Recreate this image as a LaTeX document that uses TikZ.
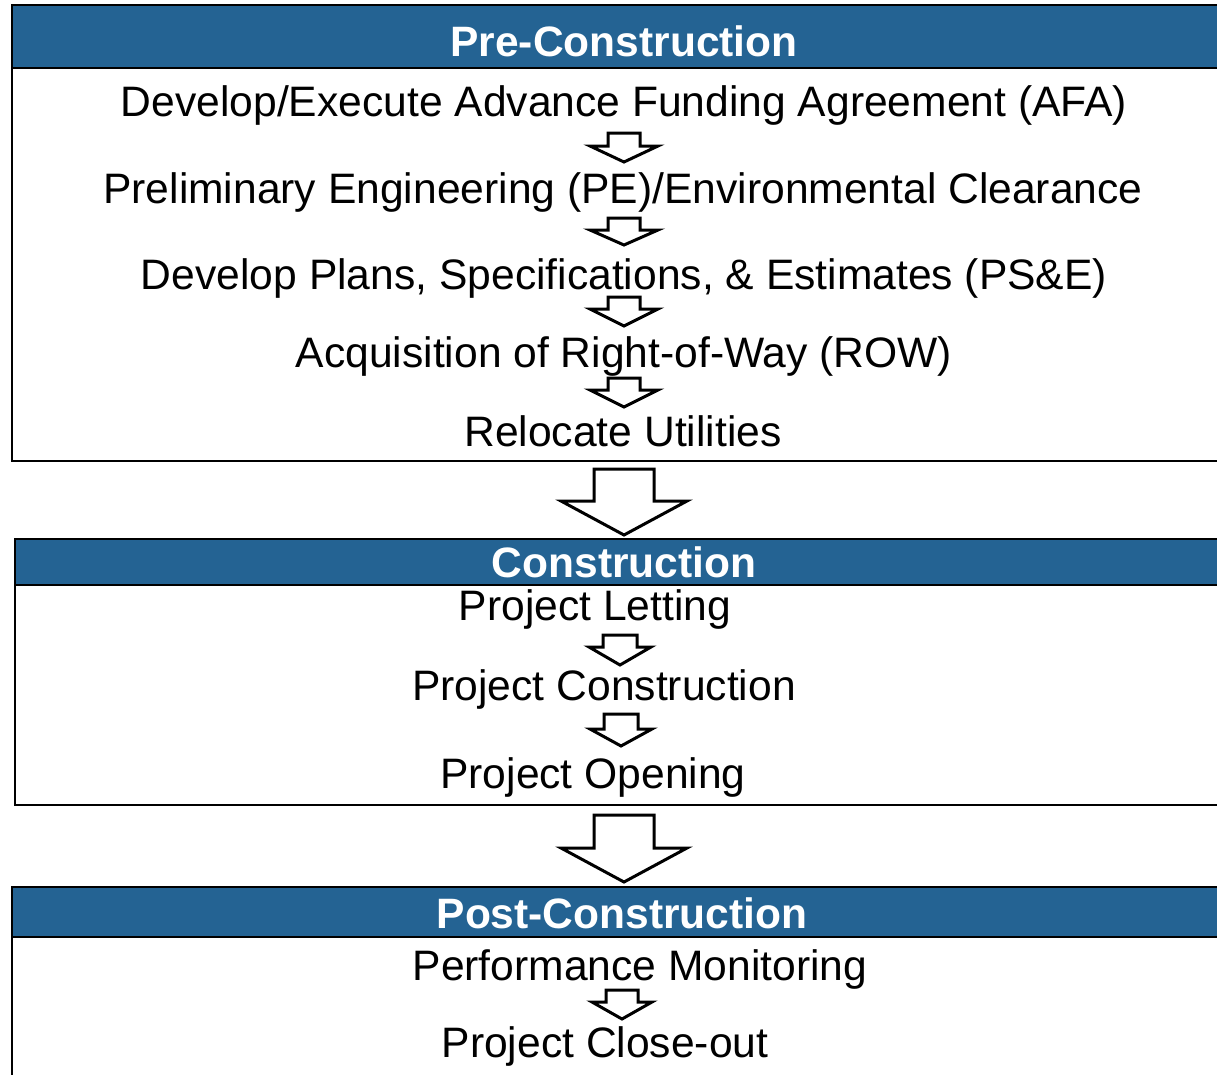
\documentclass[tikz,border=0pt]{standalone}
\usepackage{fontspec}
\setmainfont{Liberation Sans}
\definecolor{hdrblue}{RGB}{36,99,147}
\tikzset{
  boxline/.style={draw=black, line width=2.5pt},
  hdrbox/.style={draw=black, line width=2.5pt, fill=hdrblue},
  hdrtxt/.style={anchor=base, inner sep=0pt, text=white, font=\fontsize{42.5}{50}\selectfont\bfseries},
  bodytxt/.style={anchor=base, inner sep=0pt, text=black, font=\fontsize{42.6}{50}\selectfont},
  blkarrow/.style={draw=black, line width=3pt, fill=white, line join=miter},
}
% \blk{cx}{top}{half shaft}{half head}{head base}{tip}
\newcommand\blk[6]{%
  \draw[blkarrow] (#1-#3,#2) -- (#1+#3,#2) -- (#1+#3,#5) -- (#1+#4,#5) -- (#1,#6)
    -- (#1-#4,#5) -- (#1-#3,#5) -- cycle;}
\begin{document}
\begin{tikzpicture}[x=1pt,y=-1pt]
\useasboundingbox (0,0) rectangle (1217,1074);
\clip (0,0) rectangle (1217,1074);
\fill[white] (0,0) rectangle (1217,1074);

% Pre-Construction
\draw[boxline] (12,5) rectangle (1240,461);
\draw[hdrbox] (12,5) rectangle (1240,68);
\node[hdrtxt] (h1) at (624,56) {Pre-Construction};
\node[bodytxt] (a1) at (624,116) {Develop/Execute Advance Funding Agreement (AFA)};
\node[bodytxt] (a2) at (623,203) {Preliminary Engineering (PE)/Environmental Clearance};
\node[bodytxt] (a3) at (624,289) {Develop Plans, Specifications, \& Estimates (PS\&E)};
\node[bodytxt] (a4) at (624,367) {Acquisition of Right-of-Way (ROW)};
\node[bodytxt] (a5) at (623,446) {Relocate Utilities};
\blk{624}{133}{16}{34}{146}{162}
\blk{624}{218}{16}{34}{230}{245}
\blk{624}{297}{16}{34}{309}{326}
\blk{624}{378}{16}{34}{390}{407}

% big arrow 1
\blk{624}{469}{30}{63}{501}{535}

% Construction
\draw[boxline] (15,539) rectangle (1240,805);
\draw[hdrbox] (15,539) rectangle (1240,585);
\node[hdrtxt] (h2) at (624,577) {Construction};
\node[bodytxt] (b1) at (595,620) {Project Letting};
\node[bodytxt] (b2) at (604,700) {Project Construction};
\node[bodytxt] (b3) at (593,788) {Project Opening};
\blk{620}{635}{17}{31}{647}{665}
\blk{621}{714}{17}{31}{729}{746}

% big arrow 2
\blk{624}{815}{30}{63}{848}{882}

% Post-Construction
\draw[boxline] (12,887) rectangle (1240,1100);
\draw[hdrbox] (12,887) rectangle (1240,937);
\node[hdrtxt] (h3) at (622,928) {Post-Construction};
\node[bodytxt] (c1) at (640,980) {Performance Monitoring};
\node[bodytxt] (c2) at (605,1057) {Project Close-out};
\blk{622}{990}{16}{30}{1002}{1019}
\end{tikzpicture}
\end{document}
